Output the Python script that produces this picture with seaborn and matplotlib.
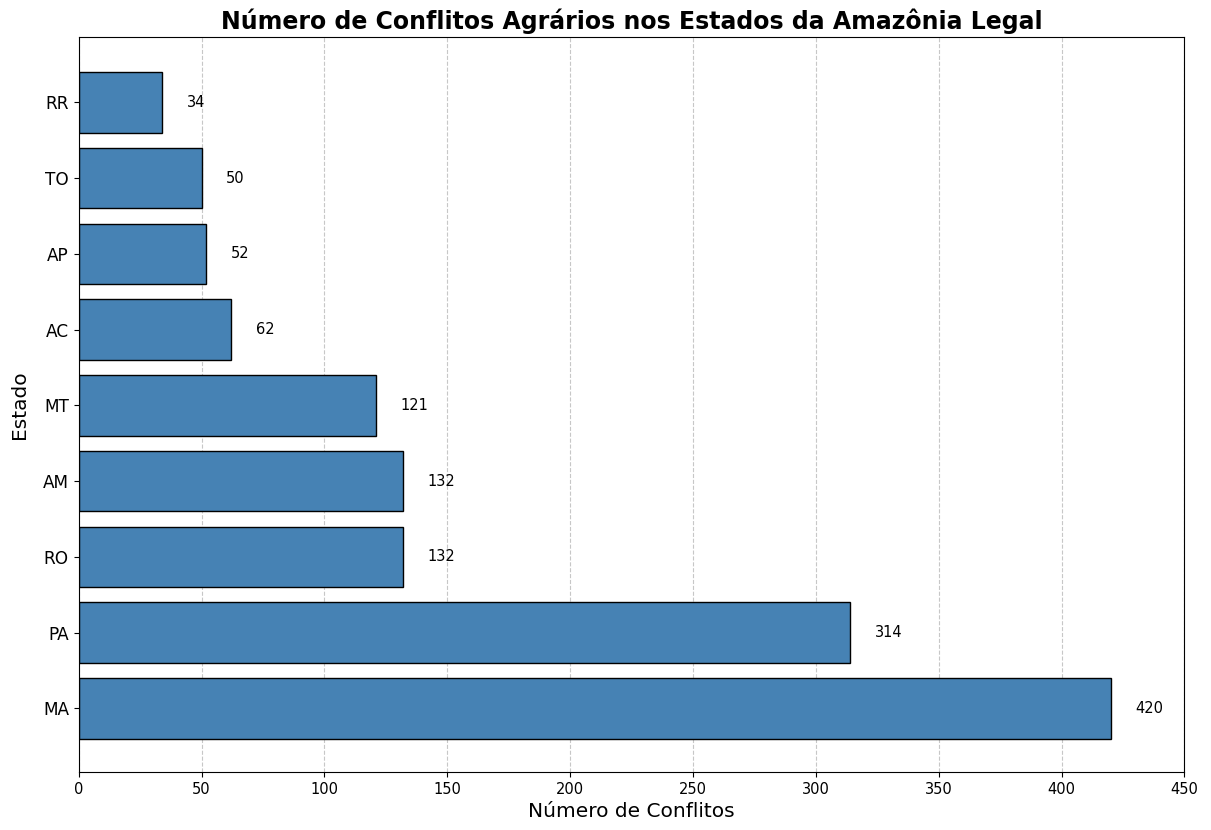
import pandas as pd
import matplotlib
matplotlib.use('Agg')
import matplotlib.pyplot as plt
import seaborn as sns

# Data (top to bottom)
estados = ['RR', 'TO', 'AP', 'AC', 'MT', 'AM', 'RO', 'PA', 'MA']
conflitos = [34, 50, 52, 62, 121, 132, 132, 314, 420]

df = pd.DataFrame({'Estado': estados, 'Conflitos': conflitos})

fig, ax = plt.subplots(figsize=(12.11, 8.30), dpi=100)

sns.barplot(data=df, x='Conflitos', y='Estado', order=estados, orient='h',
            color='steelblue', saturation=1, edgecolor='black', linewidth=1,
            width=0.8, ax=ax)

# Value labels next to each bar
for i, v in enumerate(conflitos):
    ax.text(v + 10, i, str(v), va='center', ha='left', fontsize=10.5)

ax.set_title('Número de Conflitos Agrários nos Estados da Amazônia Legal',
             fontsize=17, fontweight='bold')
ax.set_xlabel('Número de Conflitos', fontsize=14.5)
ax.set_ylabel('Estado', fontsize=14.5, labelpad=10)
ax.tick_params(axis='y', labelsize=12.2)
ax.tick_params(axis='x', labelsize=10.5)
ax.set_xlim(0, 450)
ax.set_ylim(8.84, -0.86)
ax.grid(axis='x', linestyle='--', alpha=0.7)
ax.set_axisbelow(True)

plt.subplots_adjust(left=0.065, right=0.978, top=0.955, bottom=0.07)
plt.savefig('out.png', dpi=100)
